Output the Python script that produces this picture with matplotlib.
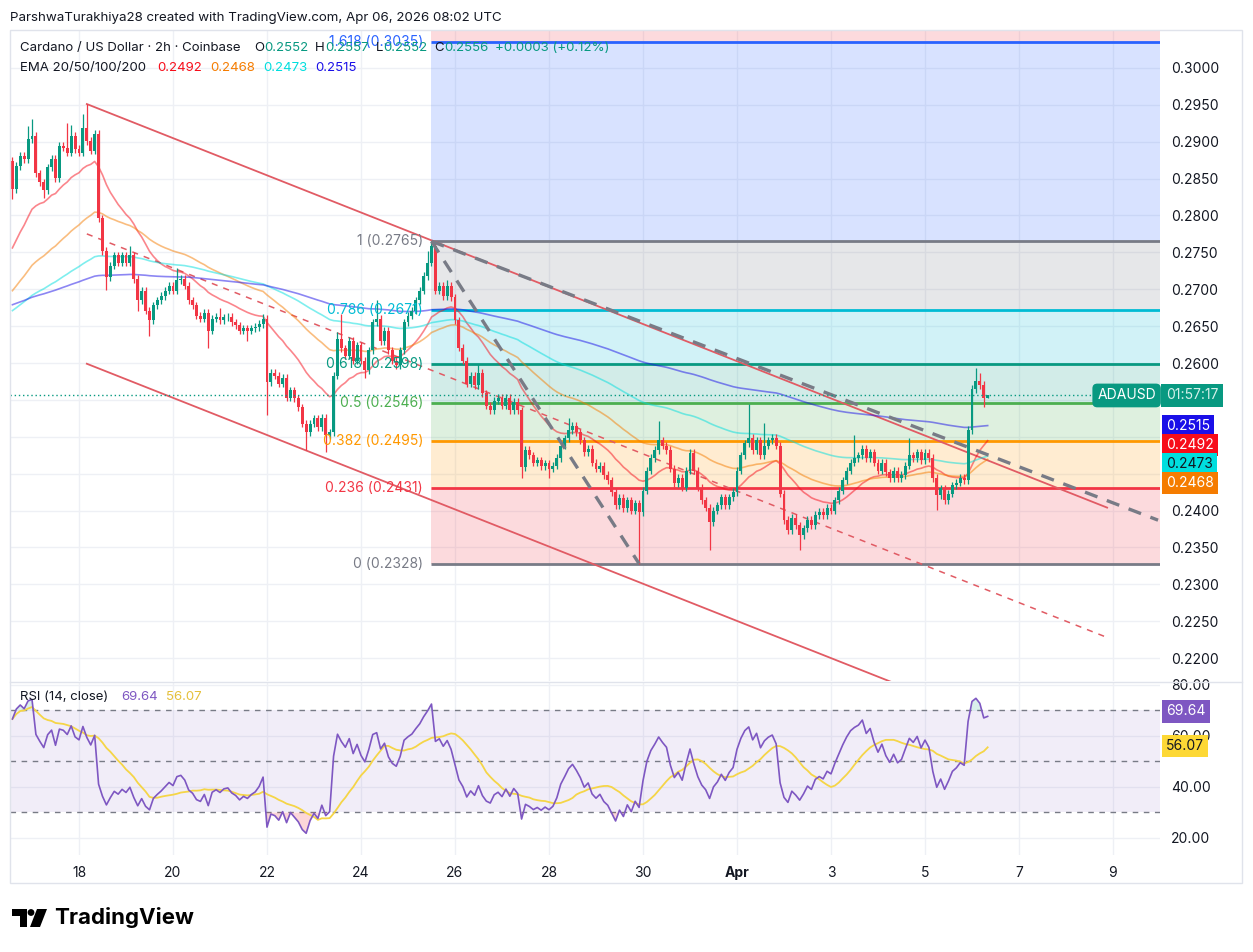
import matplotlib
matplotlib.use("Agg")
import matplotlib.pyplot as plt
import matplotlib.dates as mdates
import matplotlib.transforms as mtransforms
from matplotlib.patches import Rectangle, Polygon, Circle
import pandas as pd

plt.rcParams['font.family'] = ['Inter', 'DejaVu Sans']

# ADA/USD 2h closes, Mar 16 14:00 -> Apr 6 08:00
first_open = 0.2874
closes = [
    0.2836, 0.2867, 0.2881, 0.2876, 0.2903, 0.2908, 0.2857, 0.2845, 0.2834, 0.2865,
    0.2877, 0.2851, 0.2894, 0.2892, 0.2885, 0.2908, 0.2890, 0.2885, 0.2919, 0.2901,
    0.2888, 0.2911, 0.2796, 0.2752, 0.2716, 0.2732, 0.2746, 0.2736, 0.2746, 0.2736,
    0.2746, 0.2714, 0.2685, 0.2698, 0.2671, 0.2658, 0.2678, 0.2685, 0.2691, 0.2698,
    0.2705, 0.2698, 0.2712, 0.2714, 0.2705, 0.2685, 0.2678, 0.2664, 0.2660, 0.2668,
    0.2644, 0.2660, 0.2663, 0.2658, 0.2662, 0.2663, 0.2655, 0.2651, 0.2644, 0.2647,
    0.2644, 0.2647, 0.2649, 0.2653, 0.2660, 0.2574, 0.2587, 0.2583, 0.2572, 0.2580,
    0.2553, 0.2563, 0.2552, 0.2540, 0.2518, 0.2506, 0.2518, 0.2525, 0.2513, 0.2526,
    0.2502, 0.2506, 0.2583, 0.2633, 0.2620, 0.2610, 0.2630, 0.2603, 0.2624, 0.2603,
    0.2590, 0.2617, 0.2655, 0.2660, 0.2630, 0.2644, 0.2617, 0.2603, 0.2597, 0.2617,
    0.2655, 0.2664, 0.2671, 0.2685, 0.2698, 0.2718, 0.2736, 0.2759, 0.2698, 0.2705,
    0.2691, 0.2705, 0.2689, 0.2658, 0.2621, 0.2603, 0.2572, 0.2583, 0.2570, 0.2587,
    0.2559, 0.2542, 0.2536, 0.2549, 0.2553, 0.2542, 0.2553, 0.2536, 0.2547, 0.2536,
    0.2459, 0.2482, 0.2475, 0.2465, 0.2468, 0.2460, 0.2464, 0.2457, 0.2461, 0.2471,
    0.2488, 0.2498, 0.2509, 0.2515, 0.2506, 0.2495, 0.2479, 0.2484, 0.2465, 0.2457,
    0.2461, 0.2448, 0.2441, 0.2425, 0.2407, 0.2417, 0.2403, 0.2414, 0.2400, 0.2410,
    0.2398, 0.2427, 0.2454, 0.2471, 0.2482, 0.2495, 0.2488, 0.2482, 0.2457, 0.2437,
    0.2444, 0.2431, 0.2454, 0.2478, 0.2454, 0.2431, 0.2414, 0.2404, 0.2384, 0.2400,
    0.2407, 0.2418, 0.2407, 0.2418, 0.2425, 0.2454, 0.2475, 0.2491, 0.2499, 0.2482,
    0.2495, 0.2475, 0.2488, 0.2495, 0.2499, 0.2488, 0.2423, 0.2387, 0.2373, 0.2390,
    0.2380, 0.2367, 0.2376, 0.2387, 0.2380, 0.2394, 0.2398, 0.2394, 0.2404, 0.2400,
    0.2414, 0.2427, 0.2441, 0.2454, 0.2465, 0.2471, 0.2475, 0.2484, 0.2471, 0.2479,
    0.2465, 0.2454, 0.2465, 0.2452, 0.2444, 0.2454, 0.2444, 0.2448, 0.2461, 0.2475,
    0.2471, 0.2479, 0.2468, 0.2478, 0.2471, 0.2444, 0.2421, 0.2430, 0.2414, 0.2423,
    0.2434, 0.2438, 0.2444, 0.2441, 0.2509, 0.2565, 0.2576, 0.2570, 0.2552, 0.2556,
]
# long wicks (bar index -> price)
wick_hi = {4: 0.2921, 5: 0.2931, 14: 0.2925, 15: 0.2922, 18: 0.2938, 19: 0.2951,
           30: 0.2758, 42: 0.2729, 53: 0.2674, 64: 0.2667, 83: 0.2642, 84: 0.2667,
           93: 0.2685, 106: 0.2752, 107: 0.2765, 111: 0.2712, 119: 0.2599, 142: 0.2526,
           165: 0.2522, 188: 0.2545, 192: 0.2519, 215: 0.2503, 229: 0.2498,
           246: 0.2593, 247: 0.2587, 249: 0.2557}
wick_lo = {0: 0.2822, 8: 0.2823, 24: 0.2699, 32: 0.2671, 35: 0.2636, 50: 0.2620,
           60: 0.2630, 65: 0.2529, 75: 0.2482, 80: 0.2479, 90: 0.2580, 130: 0.2444,
           137: 0.2444, 160: 0.2328, 178: 0.2346, 201: 0.2346, 236: 0.2401,
           248: 0.2540, 249: 0.2552}

ema_periods = [20, 50, 100, 200]
ema_seeds = [0.2756, 0.2698, 0.2671, 0.2679]
ema_last = [0.2492, 0.2468, 0.2473, 0.2515]
ema_colors = ['#f70d1a', '#f57c00', '#00dede', '#1a0fe8']

fib_low, fib_high = 0.23278, 0.27650
fib_levels = [0, 0.236, 0.382, 0.5, 0.618, 0.786, 1, 1.618, 2.618]
fib_colors = ['#787b86', '#f23645', '#ff9800', '#4caf50', '#089981',
              '#00bcd4', '#787b86', '#2962ff', '#f23645']

chan_t = ["2026-03-18 04:00", "2026-04-08 21:00"]
chan_upper = [0.2951, 0.2404]
chan_width = 0.0352
trend_t = ["2026-03-25 12:00", "2026-04-09 23:00"]
trend_p = [0.2765, 0.2387]
steep_t = ["2026-03-25 12:00", "2026-03-29 22:00"]
steep_p = [0.2765, 0.2328]

rsi_seed_gain, rsi_seed_loss = 0.0012, 0.0006
rsi_last, rsi_ma_last = 69.64, 56.07

ohlc_last = [0.2552, 0.2557, 0.2552, 0.2556]
change_text = "+0.0003 (+0.12%)"
countdown = "01:57:17"

date_ticks = ["2026-03-18", "2026-03-20", "2026-03-22", "2026-03-24", "2026-03-26",
              "2026-03-28", "2026-03-30", "2026-04-01", "2026-04-03", "2026-04-05",
              "2026-04-07", "2026-04-09"]
date_labels = ["18", "20", "22", "24", "26", "28", "30", "Apr", "3", "5", "7", "9"]

UP, DOWN, DARK, GRID = '#089981', '#f23645', '#131722', '#eef0f5'


def num(t):
    return mdates.date2num(pd.Timestamp(t).to_pydatetime())


times = pd.date_range("2026-03-16 14:00", periods=len(closes), freq="2h")
x = mdates.date2num(times.to_pydatetime())
opens = [first_open] + closes[:-1]
highs, lows = [], []
for i, (o, c) in enumerate(zip(opens, closes)):
    highs.append(wick_hi.get(i, max(o, c) + 0.0005))
    lows.append(wick_lo.get(i, min(o, c) - 0.0005))


def ema(vals, period, seed):
    a = 2 / (period + 1)
    out = [seed]
    for v in vals[1:]:
        out.append(out[-1] + a * (v - out[-1]))
    return out


g, l = rsi_seed_gain, rsi_seed_loss
rsi = [100 - 100 / (1 + g / l)]
for k in range(1, len(closes)):
    ch = closes[k] - closes[k - 1]
    g = (g * 13 + max(ch, 0)) / 14
    l = (l * 13 + max(-ch, 0)) / 14
    rsi.append(100 - 100 / (1 + g / l))
rsi = pd.Series(rsi)
rsi_ma = rsi.rolling(14, min_periods=1).mean()

fig = plt.figure(figsize=(12.53, 9.52), dpi=100)
W, H = 1253, 952
ax = fig.add_axes([10 / W, 1 - 681 / H, 1150 / W, 650 / H])
rx = fig.add_axes([10 / W, 1 - 855 / H, 1150 / W, 172 / H])
x0, x1 = num("2026-03-16 12:46"), num("2026-04-10 00:00")

for a in (ax, rx):
    a.set_xlim(x0, x1)
    for s in a.spines.values():
        s.set_visible(False)
    a.set_xticks([num(t) for t in date_ticks])
    a.grid(True, color=GRID, lw=1, zorder=0)
    a.set_axisbelow(True)

ax.set_ylim(0.2169, 0.3050)
ax.yaxis.tick_right()
pt = [0.22 + 0.005 * k for k in range(17)]
ax.set_yticks(pt)
# labels hidden behind the price / ema tags
hidden = ("0.2550", "0.2500", "0.2450")
ax.set_yticklabels(["" if f"{p:.4f}" in hidden else f"{p:.4f}" for p in pt])
ax.tick_params(axis='y', length=0, pad=8, labelsize=10, labelcolor=DARK)
ax.tick_params(axis='x', length=0, labelbottom=False)

# fibonacci retracement
fx = num(trend_t[0])
prices = [fib_low + lv * (fib_high - fib_low) for lv in fib_levels]
prices[-1] = 0.3050
for k in range(len(fib_levels) - 1):
    ax.fill_between([fx, x1], prices[k], prices[k + 1], color=fib_colors[k + 1],
                    alpha=0.18, lw=0, zorder=1)
for lv, p, c in zip(fib_levels[:-1], prices[:-1], fib_colors[:-1]):
    ax.hlines(p, fx, x1, color=c, lw=2, zorder=2)
    lab = f"{lv:g} ({p:.4f})"
    ax.annotate(lab, (fx, p), xytext=(-6, 0), textcoords='offset points',
                ha='right', va='center', fontsize=10, color=c, zorder=6)

# channel
ct = [num(t) for t in chan_t]
ax.plot(ct, chan_upper, color='#e15b64', lw=1.3, zorder=3)
ax.plot(ct, [p - chan_width for p in chan_upper], color='#e15b64', lw=1.3, zorder=3)
ax.plot(ct, [p - chan_width / 2 for p in chan_upper], color='#e15b64', lw=1.1,
        ls=(0, (4, 4)), zorder=3)

# emas
for per, seed, c in zip(ema_periods, ema_seeds, ema_colors):
    ax.plot(x, ema(closes, per, seed), color=c, lw=1.2, alpha=0.5, zorder=3)

# candles
cols = [UP if c >= o else DOWN for o, c in zip(opens, closes)]
ax.vlines(x, lows, highs, colors=cols, lw=0.9, zorder=4)
bodies = [max(abs(c - o), 0.00008) for o, c in zip(opens, closes)]
ax.bar(x, bodies, bottom=[min(o, c) for o, c in zip(opens, closes)], width=0.062,
       color=cols, lw=0, zorder=4)

# grey trend lines
ax.plot([num(t) for t in trend_t], trend_p, color='#787b86', lw=2.4,
        ls=(0, (4, 3)), zorder=5)
ax.plot([num(t) for t in steep_t], steep_p, color='#787b86', lw=2.4,
        ls=(0, (4, 3)), zorder=5)

# last price line and tags
last = closes[-1]
ax.axhline(last, color=UP, lw=1, ls=(0, (1, 2)), zorder=5)
bt = mtransforms.blended_transform_factory(ax.transAxes, ax.transData)
ax.text(1 - 4 / 1150, last, "ADAUSD", transform=bt, ha='right', va='center',
        fontsize=10, color='white', zorder=7,
        bbox=dict(boxstyle='round,pad=0.35', fc=UP, ec='none'))
ax.text(1 + 6 / 1150, last, countdown, transform=bt, ha='left', va='center',
        fontsize=10, color='#d4f1ea', clip_on=False, zorder=7,
        bbox=dict(boxstyle='square,pad=0.35', fc=UP, ec='none'))
order = sorted(range(4), key=lambda k: -ema_last[k])
ty = None
for k in order:
    ty = ema_last[k] if ty is None else min(ema_last[k], ty - 0.0026)
    tc = DARK if k == 2 else 'white'
    ax.text(1 + 6 / 1150, ty, f"{ema_last[k]:.4f}", transform=bt, ha='left',
            va='center', fontsize=10, color=tc, clip_on=False, zorder=7,
            bbox=dict(boxstyle='square,pad=0.3', fc=ema_colors[k], ec='none'))

# RSI pane
rx.set_ylim(13.33, 80.78)
rx.yaxis.tick_right()
rx.set_yticks([20, 40, 60, 80])
rx.set_yticklabels(["20.00", "40.00", "60.00", "80.00"])
rx.tick_params(axis='y', length=0, pad=8, labelsize=10, labelcolor=DARK)
rx.set_xticklabels(date_labels)
rx.tick_params(axis='x', length=0, pad=8, labelsize=10, labelcolor=DARK)
rx.get_xticklabels()[7].set_fontweight('bold')
rx.fill_between([x0, x1], 30, 70, color='#7e57c2', alpha=0.1, lw=0, zorder=1)
for lvl in (70, 50, 30):
    rx.axhline(lvl, color='#787b86', lw=1, ls=(0, (4, 4)), zorder=2)
rx.fill_between(x, rsi, 70, where=rsi > 70, interpolate=True, color='#089981',
                alpha=0.15, lw=0, zorder=2)
rx.fill_between(x, rsi, 30, where=rsi < 30, interpolate=True, color='#f23645',
                alpha=0.2, lw=0, zorder=2)
rx.plot(x, rsi_ma, color='#f5d547', lw=1.3, zorder=3)
rx.plot(x, rsi, color='#7e57c2', lw=1.2, zorder=4)
rt = mtransforms.blended_transform_factory(rx.transAxes, rx.transData)
rx.text(1 + 6 / 1150, rsi_last, f"{rsi_last:.2f}", transform=rt, ha='left',
        va='center', fontsize=10, color='white', clip_on=False, zorder=7,
        bbox=dict(boxstyle='square,pad=0.3', fc='#7e57c2', ec='none'))
rx.text(1 + 6 / 1150, rsi_ma_last, f"{rsi_ma_last:.2f}", transform=rt, ha='left',
        va='center', fontsize=10, color=DARK, clip_on=False, zorder=7,
        bbox=dict(boxstyle='square,pad=0.3', fc='#fdd835', ec='none'))

# overlay in pixel coordinates
ov = fig.add_axes([0, 0, 1, 1], zorder=10)
ov.set_xlim(0, W)
ov.set_ylim(H, 0)
ov.axis('off')
ov.patch.set_alpha(0)
ov.add_patch(Rectangle((10, 30), 1232, 853, fill=False, ec='#e0e3eb', lw=1))
ov.plot([10, 1242], [682, 682], color='#e0e3eb', lw=1)
rend = fig.canvas.get_renderer()


def row(x, y, parts, size=9.5, gap=0):
    for txt, col in parts:
        t = ov.text(x, y, txt, color=col, fontsize=size, va='center')
        x += t.get_window_extent(renderer=rend).width + gap
    return x


ov.text(10, 18, "ParshwaTurakhiya28 created with TradingView.com, Apr 06, 2026 08:02 UTC",
        fontsize=9.6, color=DARK, va='center')
end = row(20, 48, [("Cardano / US Dollar · 2h · Coinbase", DARK)])
for px, letter, v in zip([254, 314, 372, 433], "OHLC", ohlc_last):
    end = row(max(px, end + 7), 48, [(letter, DARK), (f"{v:.4f}", UP)])
row(max(487, end + 7), 48, [(change_text, UP)])
end = row(20, 68, [("EMA 20/50/100/200", DARK)])
for px, v, c in zip([157, 210, 263, 315], ema_last, ema_colors):
    end = row(max(px, end + 6), 68, [(f"{v:.4f}", c)])
end = row(20, 697, [("RSI (14, close)", DARK)])
end = row(max(121, end + 6), 697, [(f"{rsi_last:.2f}", '#7e57c2')])
row(max(166, end + 6), 697, [(f"{rsi_ma_last:.2f}", '#e5c03a')])

# TradingView logo
ov.add_patch(Polygon([(12, 909), (27, 909), (27, 927), (20, 927), (20, 916), (12, 916)],
                     closed=True, fc='black', ec='none'))
ov.add_patch(Circle((31, 912.5), 3.4, fc='black', ec='none'))
ov.add_patch(Polygon([(37, 909), (47, 909), (40, 927), (30, 927)], closed=True,
                     fc='black', ec='none'))
ov.text(54, 918, "TradingView", fontsize=16, fontweight='bold', color='black',
        va='center')

fig.savefig("out.png", dpi=100)
